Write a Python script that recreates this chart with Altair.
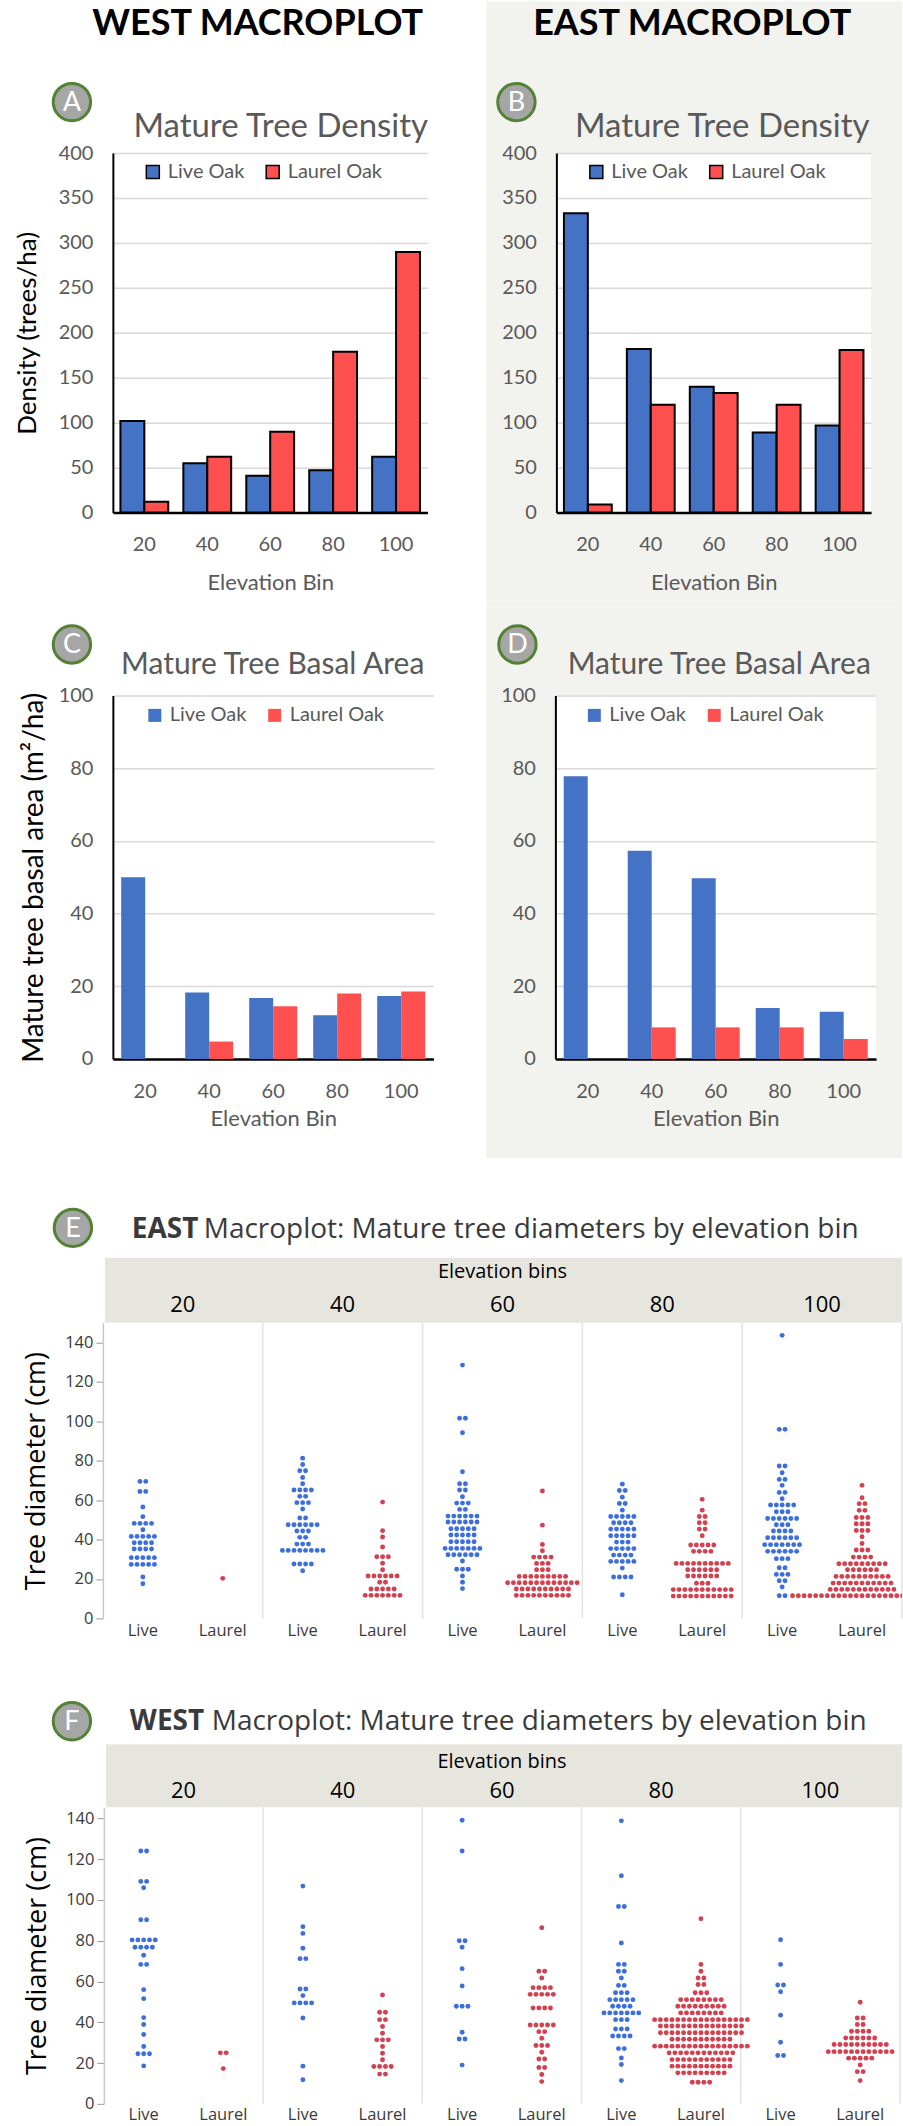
import altair as alt
import pandas as pd

# ---------------- data ----------------
BINS = [20, 40, 60, 80, 100]
SPECIES = ["Live Oak", "Laurel Oak"]
GROUPS = ["Live", "Laurel"]

# Panels A/B: mature tree density (trees/ha)
WEST_DENSITY_LIVE = [102, 55, 41, 47, 62]
WEST_DENSITY_LAUREL = [12, 62, 90, 179, 290]
EAST_DENSITY_LIVE = [333, 182, 140, 89, 97]
EAST_DENSITY_LAUREL = [9, 120, 133, 120, 181]

# Panels C/D: mature tree basal area (m2/ha)
WEST_BASAL_LIVE = [50, 18.3, 16.8, 12, 17.3]
WEST_BASAL_LAUREL = [0, 4.8, 14.5, 18, 18.6]
EAST_BASAL_LIVE = [77.8, 57.3, 49.7, 14, 13]
EAST_BASAL_LAUREL = [0, 8.7, 8.7, 8.7, 5.5]

DENSITY_TICKS = [0, 50, 100, 150, 200, 250, 300, 350, 400]
BASAL_TICKS = [0, 20, 40, 60, 80, 100]
DIAM_TICKS = [0, 20, 40, 60, 80, 100, 120, 140]

# Panels E/F: (diameter cm, number of trees) per elevation bin
EAST_LIVE = {
    20: [(69.5, 2), (64.4, 2), (56.5, 1), (51.6, 1), (48.2, 4), (45.0, 1), (41.6, 5), (38.4, 4),
         (35.2, 4), (30.8, 5), (27.4, 5), (21.0, 1), (17.6, 1)],
    40: [(81.3, 1), (78.1, 1), (74.9, 2), (71.5, 1), (68.3, 1), (65.1, 4), (61.9, 2), (58.7, 3),
         (55.5, 1), (50.9, 2), (47.5, 6), (44.3, 3), (41.1, 2), (37.7, 3), (34.5, 8), (27.6, 4), (24.2, 1)],
    60: [(128.5, 1), (101.5, 2), (94.2, 1), (74.4, 1), (68.3, 2), (65.1, 2), (61.7, 1), (58.5, 3),
         (55.3, 2), (51.9, 6), (48.9, 6), (45.5, 5), (42.3, 5), (38.9, 5), (35.5, 7), (32.3, 6),
         (29.1, 1), (24.9, 3), (21.5, 1), (18.3, 1), (15.1, 1)],
    80: [(68.1, 1), (64.9, 2), (61.5, 1), (58.3, 2), (54.9, 1), (51.7, 5), (48.5, 4), (45.3, 5),
         (41.9, 5), (38.7, 3), (35.4, 5), (32.1, 4), (28.9, 5), (25.5, 1), (21.0, 4), (12.0, 1)],
    100: [(143.6, 1), (95.9, 2), (77.3, 2), (73.9, 1), (70.5, 2), (67.5, 1), (63.9, 2), (60.7, 1),
          (57.5, 5), (54.1, 3), (50.7, 6), (47.5, 3), (44.3, 4), (40.9, 6), (37.4, 7), (34.0, 6),
          (30.3, 3), (25.7, 2), (22.3, 3), (19.1, 2), (15.9, 1), (11.5, 2)],
}
EAST_LAUREL = {
    20: [(20.3, 1)],
    40: [(59.0, 1), (44.5, 1), (41.3, 1), (36.2, 1), (31.3, 3), (28.0, 1), (24.7, 1), (21.5, 6),
         (18.3, 2), (14.9, 5), (11.7, 7)],
    60: [(64.6, 1), (47.3, 1), (37.5, 1), (34.3, 1), (31.1, 4), (27.9, 3), (24.7, 3), (21.3, 9),
         (18.1, 13), (14.9, 10), (11.7, 10)],
    80: [(60.4, 1), (54.9, 1), (51.7, 2), (48.5, 2), (45.3, 2), (41.9, 1), (37.2, 5), (34.0, 4),
         (27.9, 10), (24.7, 6), (21.5, 6), (17.8, 3), (14.6, 11), (11.3, 11)],
    100: [(67.5, 1), (61.2, 1), (58.2, 2), (54.8, 2), (51.2, 3), (48.0, 3), (44.6, 3), (41.4, 1),
          (38.0, 1), (34.7, 3), (31.1, 4), (27.7, 9), (24.7, 6), (21.3, 10), (17.9, 11), (14.7, 12),
          (11.5, 25)],
}
WEST_LIVE = {
    20: [(124.0, 2), (109.1, 2), (106.0, 1), (90.3, 2), (80.4, 5), (76.8, 4), (72.9, 1), (68.4, 2),
         (56.0, 1), (51.6, 1), (42.3, 1), (38.9, 1), (34.0, 1), (28.1, 1), (24.6, 3), (18.6, 1)],
    40: [(106.8, 1), (86.9, 1), (83.6, 1), (76.3, 1), (71.2, 2), (56.3, 2), (53.1, 1), (49.5, 4),
         (42.1, 1), (18.5, 1), (11.8, 1)],
    60: [(139.1, 1), (124.0, 1), (80.0, 2), (76.8, 1), (66.3, 1), (57.8, 1), (47.9, 3), (35.1, 1),
         (31.8, 2), (19.0, 1)],
    80: [(138.8, 1), (111.9, 1), (96.8, 2), (78.9, 1), (68.4, 2), (65.0, 2), (61.7, 1), (58.1, 2),
         (54.5, 3), (51.1, 5), (47.9, 4), (44.6, 7), (41.3, 3), (36.7, 3), (33.3, 4), (27.1, 2),
         (22.5, 1), (19.3, 1), (11.4, 1)],
    100: [(80.5, 1), (68.4, 1), (58.3, 2), (55.0, 1), (43.5, 1), (30.2, 1), (23.7, 2)],
}
WEST_LAUREL = {
    20: [(25.0, 2), (17.3, 1)],
    40: [(53.4, 1), (44.9, 2), (41.3, 2), (37.9, 1), (34.6, 1), (31.4, 3), (28.1, 1), (24.8, 1),
         (21.6, 1), (18.3, 4), (14.6, 2)],
    60: [(86.4, 1), (65.0, 2), (61.7, 1), (57.0, 4), (53.7, 5), (47.0, 4), (38.7, 5), (35.4, 2),
         (32.2, 1), (28.6, 3), (25.3, 1), (22.0, 2), (17.8, 2), (14.4, 1), (10.9, 1)],
    80: [(90.8, 1), (68.4, 1), (65.0, 1), (61.7, 2), (58.5, 2), (54.5, 3), (51.1, 8), (47.9, 9),
         (44.6, 8), (41.3, 17), (38.2, 15), (34.9, 15), (31.7, 11), (28.3, 17), (25.0, 12),
         (21.7, 11), (18.5, 11), (15.2, 9), (10.6, 4)],
    100: [(49.8, 1), (42.1, 2), (38.9, 2), (35.6, 4), (32.3, 6), (29.1, 10), (25.6, 12), (22.4, 5),
          (19.1, 1), (15.8, 2), (11.4, 1)],
}

# ---------------- style ----------------
FONT_X = "Lato"
FONT_J = "Open Sans"
GREY_TXT = "#595959"
BAR_BLUE = "#4472c4"
BAR_RED = "#ff5050"
DOT_BLUE = "#3d6fdc"
DOT_RED = "#d3404f"
EAST_BG = "#f2f2ee"
BAND = "#e7e6de"
DOT_STEP_PX = 5.8
ONE_ROW = [{"k": 1}]


def deco_rect(x, x2, y, y2, color, opacity=1.0):
    return alt.Chart(alt.Data(values=ONE_ROW)).mark_rect(
        color=color, opacity=opacity, fillOpacity=opacity
    ).encode(x=alt.value(x), x2=alt.value(x2), y=alt.value(y), y2=alt.value(y2))


def deco_text(text, x, y, size, color, font, weight="normal", align="center"):
    return alt.Chart(alt.Data(values=ONE_ROW)).mark_text(
        text=text, font=font, fontSize=size, color=color, fontWeight=weight,
        align=align, baseline="middle"
    ).encode(x=alt.value(x), y=alt.value(y))


def badge(letter, x, y):
    ring = alt.Chart(alt.Data(values=ONE_ROW)).mark_circle(
        size=1400, fill="#a6a6a6", stroke="#548235", strokeWidth=3, opacity=1
    ).encode(x=alt.value(x), y=alt.value(y))
    return [ring, deco_text(letter, x, y + 1, 27, "white", FONT_X)]


def bar_panel(live, laurel, *, width, height, ymax, ticks, pad_in, pad_out, outlined, ytitle,
              ytitle_x, ytitle_size, xtitle_y, xlabel_pad, legend_x, legend_y, title, title_size,
              title_x, title_y, before, after):
    df = pd.DataFrame({
        "bin": BINS * 2,
        "species": [SPECIES[0]] * len(BINS) + [SPECIES[1]] * len(BINS),
        "value": list(live) + list(laurel),
    })
    bar_kw = dict(stroke="black", strokeWidth=2) if outlined else {}
    leg_kw = dict(symbolStrokeColor="black", symbolStrokeWidth=1.5) if outlined else dict(symbolStrokeWidth=0)
    bars = alt.Chart(df).mark_bar(**bar_kw).encode(
        x=alt.X("bin:O", sort=BINS, scale=alt.Scale(paddingInner=pad_in, paddingOuter=pad_out),
                axis=alt.Axis(title="Elevation Bin", labelAngle=0, labelFont=FONT_X, labelFontSize=20,
                              labelColor=GREY_TXT, labelPadding=xlabel_pad, ticks=False, tickSize=0,
                              domainColor="black", domainWidth=2.5, titleFont=FONT_X, titleFontSize=22,
                              titleFontWeight="normal", titleColor=GREY_TXT, titleY=xtitle_y,
                              titleBaseline="middle")),
        xOffset=alt.XOffset("species:N", sort=SPECIES, scale=alt.Scale(domain=SPECIES)),
        y=alt.Y("value:Q", scale=alt.Scale(domain=[0, ymax], nice=False),
                axis=alt.Axis(values=ticks, title=ytitle, grid=True, gridColor="#d9d9d9", gridWidth=1.5,
                              ticks=False, tickSize=0, domainColor="black", domainWidth=2,
                              labelFont=FONT_X, labelFontSize=20, labelColor=GREY_TXT, labelPadding=20,
                              titleFont=FONT_X, titleFontSize=ytitle_size, titleFontWeight="normal",
                              titleColor="black", titleX=ytitle_x, titleY=height / 2,
                              titleBaseline="middle")),
        color=alt.Color("species:N", sort=SPECIES,
                        scale=alt.Scale(domain=SPECIES, range=[BAR_BLUE, BAR_RED]),
                        legend=alt.Legend(title=None, orient="none", legendX=legend_x, legendY=legend_y,
                                          direction="horizontal", symbolType="square", symbolSize=169,
                                          symbolOpacity=1, labelFont=FONT_X, labelFontSize=20,
                                          labelColor=GREY_TXT, labelOffset=5, columnPadding=18,
                                          padding=0, **leg_kw)),
    )
    head = deco_text(title, title_x, title_y, title_size, GREY_TXT, FONT_X)
    return alt.layer(*before, bars, head, *after).properties(width=width, height=height)


def expand(live, laurel):
    rows = []
    for bi, b in enumerate(BINS):
        for sp, table in ((GROUPS[0], live), (GROUPS[1], laurel)):
            for d, n in table[b]:
                for _ in range(n):
                    rows.append({"bi": bi, "bin": b, "sp": sp, "d": d})
    return pd.DataFrame(rows)


# The dot panels share the left origin (x = 113 px) with the bar panels; their x scale
# starts `x0` px left of it and the y axis is offset by the same amount.
def dot_panel(live, laurel, region, *, x0, x1, height, ymax, frame_y, band_y, head_y, bins_y,
              title_y, bold_x, rest_x, badge_xy, letter, label_y):
    n = len(BINS)
    width = 790
    xs = alt.Scale(domain=[0, 4 * n], range=[x0, x1], nice=False, zero=False)
    ys = alt.Scale(domain=[0, ymax], nice=False)
    k = DOT_STEP_PX / ((x1 - x0) / (4 * n))
    df = expand(live, laurel)
    pts = alt.Chart(df).transform_window(
        rank="row_number()", cnt="count()", groupby=["bi", "sp", "d"], frame=[None, None]
    ).transform_calculate(
        xp=f"datum.bi * 4 + (datum.sp == 'Live' ? 1 : 3) + (datum.rank - (datum.cnt + 1) / 2) * {k}"
    ).mark_circle(size=24, opacity=1, clip=True).encode(
        x=alt.X("xp:Q", scale=xs,
                axis=alt.Axis(labels=False, title=None, grid=False, ticks=False, tickSize=0,
                              domainColor="#c6c6c6", domainWidth=2)),
        y=alt.Y("d:Q", scale=ys,
                axis=alt.Axis(values=DIAM_TICKS, title="Tree diameter (cm)", grid=False, tickColor="#9a9a9a",
                              tickSize=7, domainColor="#c8c8c8", domainWidth=1.5, labelFont=FONT_J,
                              labelFontSize=16.5, labelColor="#3a3a3a", labelPadding=3, offset=-x0,
                              titleFont=FONT_J, titleFontSize=27, titleFontWeight="normal",
                              titleColor="black", titleX=-66, titleY=height / 2, titleBaseline="middle")),
        color=alt.Color("sp:N", scale=alt.Scale(domain=GROUPS, range=[DOT_BLUE, DOT_RED]), legend=None),
    )
    seps = alt.Chart(pd.DataFrame({"s": [4 * i for i in range(1, n + 1)]})).mark_rule(
        color="#e3e3e3", strokeWidth=1.5
    ).encode(x=alt.X("s:Q", scale=xs, axis=None))
    bin_text = alt.Chart(pd.DataFrame({"bi": list(range(n)), "bin": BINS})).transform_calculate(
        xc="datum.bi * 4 + 2"
    ).mark_text(font=FONT_J, fontSize=22, color="black", baseline="middle").encode(
        x=alt.X("xc:Q", scale=xs, axis=None), y=alt.value(bins_y), text="bin:N")
    grp_df = pd.DataFrame([{"bi": i, "sp": g} for i in range(n) for g in GROUPS])
    grp_text = alt.Chart(grp_df).transform_calculate(
        xg="datum.bi * 4 + (datum.sp == 'Live' ? 1 : 3)"
    ).mark_text(font=FONT_J, fontSize=16.5, color="#3a3a3a", baseline="middle").encode(
        x=alt.X("xg:Q", scale=xs, axis=None), y=alt.value(label_y), text="sp:N")
    layers = [
        deco_rect(-113, width, frame_y[0], frame_y[1], "white", 0),
        deco_rect(x0 + 2, width, band_y, 0, BAND),
        seps,
        pts,
        bin_text,
        grp_text,
        deco_text("Elevation bins", (x0 + x1) / 2, head_y, 20, "black", FONT_J),
        deco_text(region, bold_x, title_y, 28, "#3a3a3a", FONT_J, weight="bold", align="left"),
        deco_text("Macroplot: Mature tree diameters by elevation bin", rest_x, title_y, 28, "#3a3a3a",
                  FONT_J, align="left"),
        *badge(letter, badge_xy[0], badge_xy[1]),
    ]
    return alt.layer(*layers).properties(width=width, height=height)


# ---------------- panels ----------------
A = bar_panel(
    WEST_DENSITY_LIVE, WEST_DENSITY_LAUREL, width=315, height=360, ymax=400, ticks=DENSITY_TICKS,
    pad_in=0.24, pad_out=0.12, outlined=True, ytitle="Density (trees/ha)", ytitle_x=-85, ytitle_size=26,
    xtitle_y=70, xlabel_pad=22, legend_x=30, legend_y=9, title="Mature Tree Density", title_size=33,
    title_x=168, title_y=-26,
    before=[deco_rect(-113, 790, -152, 448, "white", 0), deco_rect(374, 790, -152, 448, EAST_BG)],
    after=[deco_text("WEST MACROPLOT", 145, -129, 36, "black", FONT_X, weight="bold"), *badge("A", -41, -51)],
)
B = bar_panel(
    EAST_DENSITY_LIVE, EAST_DENSITY_LAUREL, width=315, height=360, ymax=400, ticks=DENSITY_TICKS,
    pad_in=0.24, pad_out=0.12, outlined=True, ytitle="", ytitle_x=-85, ytitle_size=26,
    xtitle_y=70, xlabel_pad=22, legend_x=30, legend_y=9, title="Mature Tree Density", title_size=33,
    title_x=166, title_y=-26,
    before=[],
    after=[deco_text("EAST MACROPLOT", 136, -129, 36, "black", FONT_X, weight="bold"), *badge("B", -40, -51)],
)
C = bar_panel(
    WEST_BASAL_LIVE, WEST_BASAL_LAUREL, width=321, height=364, ymax=100, ticks=BASAL_TICKS,
    pad_in=0.25, pad_out=0.13, outlined=False, ytitle="Mature tree basal area (m²/ha)", ytitle_x=-78,
    ytitle_size=28, xtitle_y=60, xlabel_pad=23, legend_x=32, legend_y=10, title="Mature Tree Basal Area",
    title_size=30, title_x=160, title_y=-30,
    before=[deco_rect(-113, 790, -95, 465, "white", 0), deco_rect(374, 790, -95, 463, EAST_BG)],
    after=[*badge("C", -41, -51)],
)
D = bar_panel(
    EAST_BASAL_LIVE, EAST_BASAL_LAUREL, width=321, height=364, ymax=100, ticks=BASAL_TICKS,
    pad_in=0.25, pad_out=0.13, outlined=False, ytitle="", ytitle_x=-78, ytitle_size=28,
    xtitle_y=60, xlabel_pad=23, legend_x=29, legend_y=10, title="Mature Tree Basal Area",
    title_size=30, title_x=164, title_y=-30,
    before=[],
    after=[*badge("D", -38, -51)],
)
E = dot_panel(
    EAST_LIVE, EAST_LAUREL, "EAST", x0=-10, x1=790, height=296, ymax=150, frame_y=(-163, 327),
    band_y=-65, head_y=-51, bins_y=-18, title_y=-93, bold_x=19, rest_x=91, badge_xy=(-40, -95),
    letter="E", label_y=309,
)
F = dot_panel(
    WEST_LIVE, WEST_LAUREL, "WEST", x0=-9, x1=788, height=297, ymax=145.5, frame_y=(-158, 318),
    band_y=-63, head_y=-45, bins_y=-16, title_y=-85, bold_x=17, rest_x=99, badge_xy=(-41, -86),
    letter="F", label_y=308,
)


def indep(c):
    return c.resolve_scale(color="independent", xOffset="independent").resolve_legend(color="independent")


row1 = indep(alt.hconcat(A, B, spacing=129, bounds="flush"))
row2 = indep(alt.hconcat(C, D, spacing=122, bounds="flush"))

chart = indep(alt.vconcat(row1, row2, E, F, spacing=0)).properties(
    padding=0, background="white").configure_view(strokeWidth=0, fill="white")

chart.save("out.html", embed_options={"renderer": "svg", "actions": False})
